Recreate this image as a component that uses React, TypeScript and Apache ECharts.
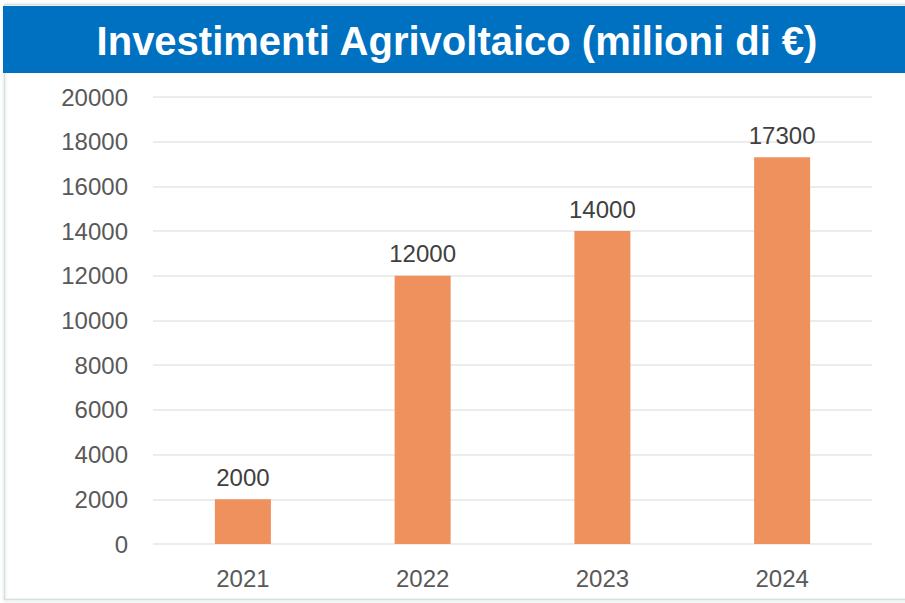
import React, { useEffect, useRef } from "react";
import * as echarts from "echarts";

const TITLE = "Investimenti Agrivoltaico (milioni di €)";
const years = ["2021", "2022", "2023", "2024"];
const investments = [2000, 12000, 14000, 17300];
const yMin = 0;
const yMax = 20000;
const yStep = 2000;

const FONT = "'Liberation Sans', Arial, sans-serif";

export default function App() {
  const ref = useRef<HTMLDivElement>(null);
  useEffect(() => {
    document.body.style.margin = "0";
    const chart = echarts.init(ref.current!, undefined, { renderer: "svg" });
    chart.setOption({
      animation: false,
      backgroundColor: "#ffffff",
      graphic: [
        {
          type: "rect",
          shape: { x: 4.5, y: 4.5, width: 910, height: 595 },
          style: {
            fill: "none",
            stroke: "#d3e2d6",
            lineWidth: 1.5,
            shadowColor: "rgba(0,0,0,0.15)",
            shadowBlur: 3,
            shadowOffsetY: 1,
          },
          z: 0,
        },
        {
          type: "rect",
          shape: { x: 3, y: 6, width: 902, height: 67 },
          style: { fill: "#0070c0" },
          z: 1,
        },
        {
          type: "text",
          x: 457,
          y: 41,
          style: {
            text: TITLE,
            fill: "#ffffff",
            font: `bold 40px ${FONT}`,
            textAlign: "center",
            textVerticalAlign: "middle",
          },
          z: 2,
        },
      ],
      grid: { left: 153, right: 33, top: 97, bottom: 59, containLabel: false },
      xAxis: {
        type: "category",
        data: years,
        axisLine: { show: false },
        axisTick: { show: false },
        axisLabel: {
          color: "#595959",
          fontSize: 24,
          fontFamily: FONT,
          margin: 22,
        },
      },
      yAxis: {
        type: "value",
        min: yMin,
        max: yMax,
        interval: yStep,
        axisLine: { show: false },
        axisTick: { show: false },
        splitLine: { lineStyle: { color: "#e6e6e6", width: 1.5 } },
        axisLabel: {
          color: "#595959",
          fontSize: 24,
          fontFamily: FONT,
          margin: 25,
          formatter: (v: number) => String(v),
        },
      },
      series: [
        {
          type: "bar",
          data: investments,
          barWidth: 56,
          itemStyle: { color: "#ee915c" },
          label: {
            show: true,
            position: "top",
            distance: 10,
            color: "#404040",
            fontSize: 24,
            fontFamily: FONT,
          },
        },
      ],
    });
    return () => chart.dispose();
  }, []);
  return (
    <div
      ref={ref}
      style={{ position: "fixed", left: 0, top: 0, width: 905, height: 603 }}
    />
  );
}
